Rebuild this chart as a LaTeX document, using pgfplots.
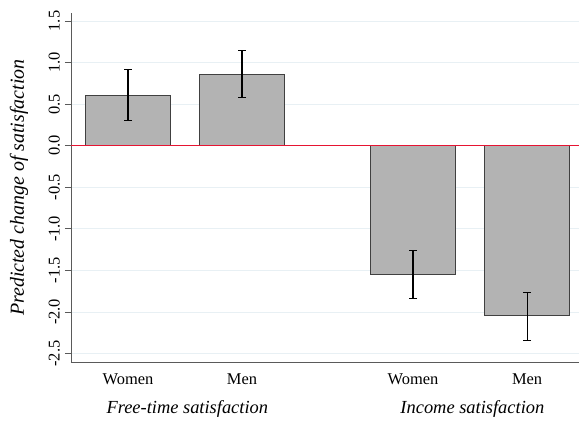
\documentclass[border=0pt]{standalone}
\usepackage{xcolor}
\usepackage{pgfplots}
\pgfplotsset{compat=1.18}
\usepackage{fontspec}
\setmainfont{Liberation Serif}
\definecolor{barfill}{RGB}{179,179,179}
\definecolor{bardraw}{RGB}{64,64,64}
\definecolor{myred}{RGB}{230,20,50}
\definecolor{gridc}{RGB}{232,240,244}
\definecolor{axisc}{RGB}{90,90,90}
\begin{document}
\begin{tikzpicture}
\useasboundingbox (-71bp,-60bp) rectangle (508bp,362.7bp);
\begin{axis}[
  at={(0,0)}, anchor=south west,
  scale only axis, width=508bp, height=350bp,
  xmin=0.5, xmax=4.955, ymin=-2.61, ymax=1.6,
  axis x line*=bottom, axis y line*=left,
  axis line style={axisc, line width=1pt},
  ytick={-2.5,-2,...,1.5},
  yticklabel style={rotate=90, anchor=south, inner xsep=1bp, inner ysep=5bp, font=\fontsize{16.5}{20}\selectfont},
  /pgf/number format/.cd, fixed, fixed zerofill, precision=1, assume math mode=true,
  /pgfplots/.cd,
  tick align=outside, major tick length=6bp,
  tick style={axisc, line width=0.8pt},
  xtick={1,2,3.5,4.5},
  xticklabels={Women,Men,Women,Men},
  xticklabel style={font=\fontsize{16.5}{19}\selectfont, yshift=-2bp},
  x tick style={draw=none},
  ymajorgrids, grid style={gridc, line width=0.8pt},
  ylabel={\itshape Predicted change of satisfaction},
  ylabel style={font=\fontsize{20}{24}\selectfont, at={(axis description cs:0,0.5)}, anchor=center, yshift=52bp},
  clip=false,
]
\addplot[ybar, bar width=0.745, fill=barfill, draw=bardraw, line width=0.8pt,
  error bars/.cd, y dir=both, y explicit,
  error bar style={black, line width=1.2pt},
  error mark options={rotate=90, black, line width=1.2pt, mark size=4bp}]
  table[x=x, y=y, y error plus=ep, y error minus=em] {
x   y      ep     em
1   0.605  0.312  0.301
2   0.862  0.288  0.282
3.5 -1.542 0.280  0.297
4.5 -2.043 0.280  0.304
};
\addplot[color=myred, draw=myred, line width=1pt, forget plot, mark=none] coordinates {(0.5,0) (4.955,0)};
\node[font=\fontsize{18.5}{22}\selectfont\itshape, anchor=base] at ([yshift=-51bp]axis cs:1.52,-2.61) {Free-time satisfaction};
\node[font=\fontsize{18.5}{22}\selectfont\itshape, anchor=base] at ([yshift=-51bp]axis cs:4.02,-2.61) {Income satisfaction};
\end{axis}
\end{tikzpicture}
\end{document}
